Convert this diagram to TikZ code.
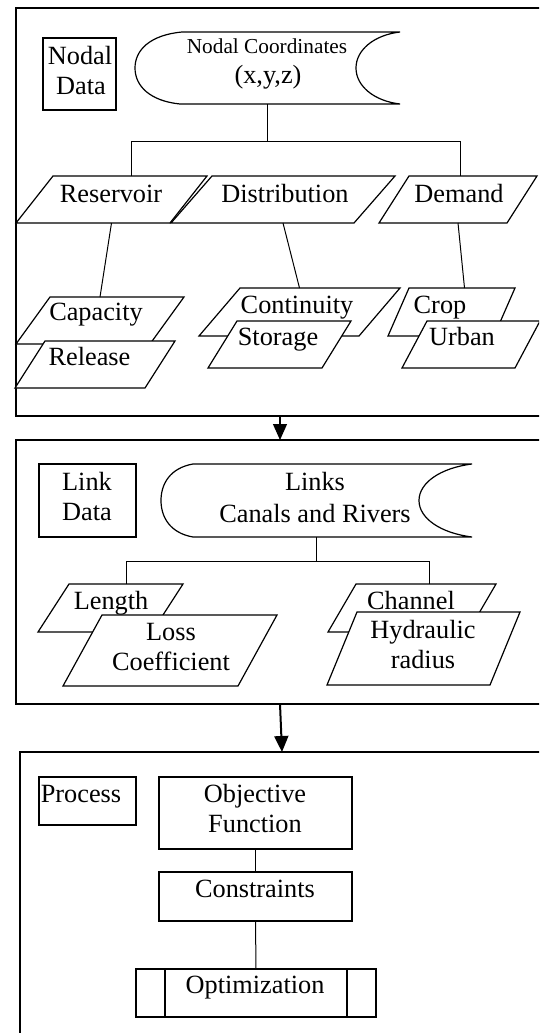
\documentclass[tikz,border=0pt]{standalone}
\usepackage{fontspec}
\setmainfont{Liberation Serif}
\usetikzlibrary{arrows.meta,calc}

\tikzset{
  shapeline/.style={draw=black, line width=1.2pt, line join=miter},
  conn/.style={draw=black, line width=1pt},
  hold/.style={inner sep=0pt, outer sep=0pt},
  boxnode/.style={draw=black, line width=1.2pt, inner sep=0pt, outer sep=0pt, anchor=north west},
  frame/.style={draw=black, line width=1.3pt, inner sep=0pt, outer sep=0pt, anchor=north west},
  lbl/.style={anchor=base, inner sep=0pt, font=\fontsize{26.3}{30}\selectfont},
  lblsmall/.style={anchor=base, inner sep=0pt, font=\fontsize{21.3}{26}\selectfont},
  flow/.style={line width=1.2pt, -{Triangle[length=16pt,width=14pt]}},
}

% slanted data box: name, top y, bottom y, top-left x, top-right x, slant
\newcommand\slantbox[6]{%
  \draw[shapeline, fill=white] (#4,#2) -- (#5,#2) -- (#5-#6,#3) -- (#4-#6,#3) -- cycle;
  \node[hold, minimum width=#5-#4, minimum height=#3-#2] (#1) at ({(#4+#5-#6)/2},{(#2+#3)/2}) {};
}

\begin{document}
\begin{tikzpicture}[x=1pt,y=-1pt]
\useasboundingbox (0,0) rectangle (539,1033);
\fill[white] (0,0) rectangle (539,1033);
\clip (0,0) rectangle (539,1033);

% ---------- frames ----------
\node[frame, minimum width=528, minimum height=408] (f1) at (16,8) {};
\node[frame, minimum width=528, minimum height=264] (f2) at (16,440) {};
\node[frame, minimum width=524, minimum height=300] (f3) at (20,752) {};
\draw[flow] (f1.south) -- (f2.north);
\draw[flow, line width=2pt] (f2.south) -- (f3.north);

% ---------- nodal data ----------
\node[boxnode, minimum width=73, minimum height=72] (ndbox) at (43,38) {};
\node[lbl] (nd1) at (80,64) {Nodal};
\node[lbl] (nd2) at (81,95) {Data};

\draw[shapeline] (400,32) -- (182,32)
  .. controls (150,35) and (135,50) .. (135,68)
  .. controls (135,86) and (150,101) .. (180,104) -- (400,104)
  .. controls (374,101) and (356,86) .. (356,68)
  .. controls (356,50) and (374,35) .. (400,32);
\node[hold, minimum width=265, minimum height=72] (nc) at (267.5,68) {};
\node[lblsmall] (nc1) at (267,53) {Nodal Coordinates};
\node[lbl] (nc2) at (268,83) {(x,y,z)};

\coordinate (jl) at (131,141);
\coordinate (jr) at (460,141);

\slantbox{res}{176}{223}{53}{207}{37}
\node[lbl] (res-l) at (111,202) {Reservoir};
\slantbox{dis}{176}{223}{212}{395}{41}
\node[lbl] (dis-l) at (285,202) {Distribution};
\slantbox{dem}{176}{223}{409}{537}{30}
\node[lbl] (dem-l) at (459,202) {Demand};

\draw[conn] (nc.south) -- (nc.south |- jl);
\draw[conn] (jl |- res.north) -- (jl) -- (jr) -- (jr |- dem.north);

\slantbox{cap}{297}{344}{50}{184}{34}
\node[lbl] (cap-l) at (96,320) {Capacity};
\slantbox{rel}{341}{388}{45}{175}{30}
\node[lbl] (rel-l) at (89.5,365) {Release};

\slantbox{cnt}{288}{336}{240}{400}{41}
\node[lbl] (cnt-l) at (297,313) {Continuity};
\slantbox{sto}{321}{368}{237}{351}{29}
\node[lbl] (sto-l) at (278,345) {Storage};

\slantbox{crp}{288}{336}{409}{515}{21}
\node[lbl] (crp-l) at (440,313) {Crop};
\slantbox{urb}{321}{368}{427}{540}{25}
\node[lbl] (urb-l) at (462,345) {Urban};

\draw[conn] (res.south) -- (cap.north);
\draw[conn] (dis.south) -- (cnt.north);
\draw[conn] (dem.south) -- ($(crp.north)+(13,0)$);

% ---------- link data ----------
\node[boxnode, minimum width=97, minimum height=73] (ldbox) at (39,464) {};
\node[lbl] (ld1) at (87,490) {Link};
\node[lbl] (ld2) at (87,520) {Data};

\draw[shapeline] (472,464) -- (193,464)
  .. controls (170,468) and (161,484) .. (161,500.5)
  .. controls (161,517) and (170,533) .. (193,537) -- (472,537)
  .. controls (440,533) and (419,518) .. (419,500.5)
  .. controls (419,483) and (440,468) .. (472,464);
\node[hold, minimum width=311, minimum height=73] (lk) at (316.5,500.5) {};
\node[lbl] (lk1) at (315,490) {Links};
\node[lbl] (lk2) at (315,522) {Canals and Rivers};

\coordinate (ll) at (126,561);
\coordinate (lr) at (429,561);

\slantbox{len}{584}{632}{69}{183}{31}
\node[lbl] (len-l) at (111,609) {Length};
\slantbox{los}{615}{686}{102}{277}{39}
\node[lbl] (los1) at (171,640) {Loss};
\node[lbl] (los2) at (171,670) {Coefficient};

\slantbox{chn}{584}{632}{356}{496}{28}
\node[lbl] (chn-l) at (411,609) {Channel};
\slantbox{hyd}{612}{685}{357}{520}{30}
\node[lbl] (hyd1) at (423,638) {Hydraulic};
\node[lbl] (hyd2) at (423,668) {radius};

\draw[conn] (lk.south) -- (lk.south |- ll);
\draw[conn] (ll |- len.north) -- (ll) -- (lr) -- (lr |- chn.north);

% ---------- process ----------
\node[boxnode, minimum width=97, minimum height=48] (prbox) at (39,777) {};
\node[lbl] (pr1) at (81,802) {Process};

\node[boxnode, minimum width=193, minimum height=72] (obj) at (159,777) {};
\node[lbl] (obj1) at (255,802) {Objective};
\node[lbl] (obj2) at (255,832) {Function};

\node[boxnode, minimum width=193, minimum height=49] (con) at (159,872) {};
\node[lbl] (con1) at (255,897) {Constraints};

\node[boxnode, minimum width=240, minimum height=48] (opt) at (136,969) {};
\draw[shapeline] ($(opt.north west)+(29,0)$) -- ($(opt.south west)+(29,0)$);
\draw[shapeline] ($(opt.north east)+(-29,0)$) -- ($(opt.south east)+(-29,0)$);
\node[lbl] (opt1) at (255,993) {Optimization};

\draw[conn] (obj.south) -- (con.north);
\draw[conn] (con.south) -- (opt.north);
\end{tikzpicture}
\end{document}
